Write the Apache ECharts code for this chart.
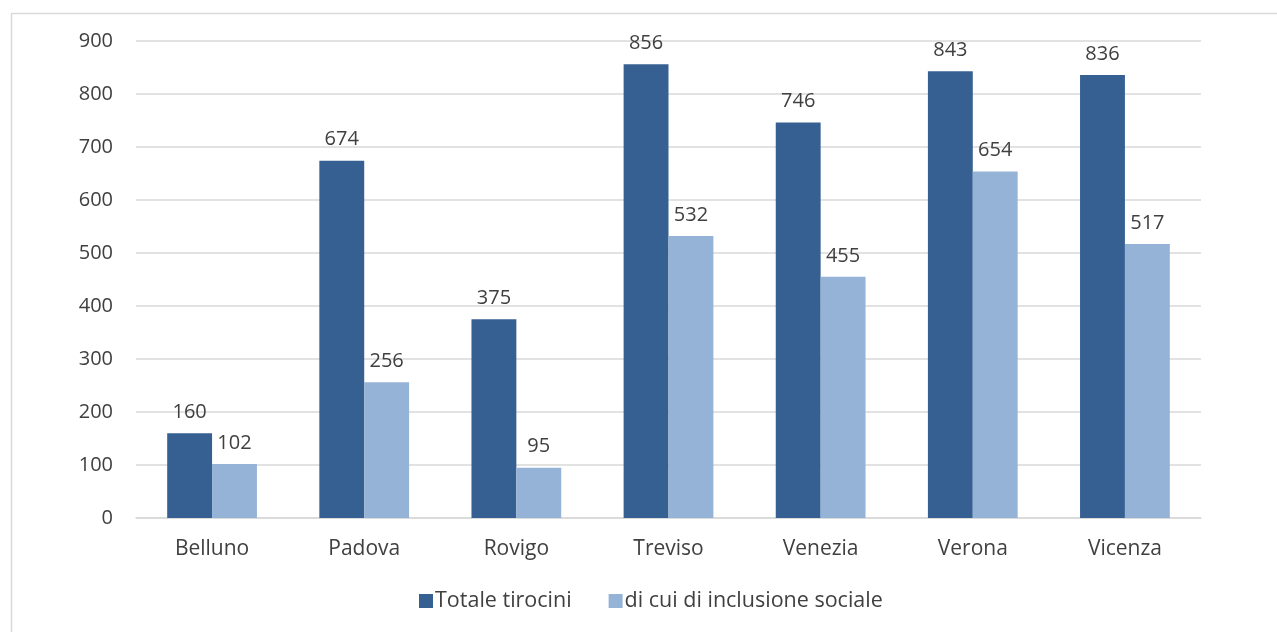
<!DOCTYPE html>
<html>
<head>
<meta charset="utf-8">
<script src="https://cdn.jsdelivr.net/npm/echarts@6/dist/echarts.min.js"></script>
<style>
  html, body { margin: 0; padding: 0; background: #ffffff; }
  #chart { width: 1277px; height: 632px; }
</style>
</head>
<body>
<div id="chart"></div>
<script>
// Tirocini per provincia del Veneto
const categories = ['Belluno', 'Padova', 'Rovigo', 'Treviso', 'Venezia', 'Verona', 'Vicenza'];
const totaleTirocini = [160, 674, 375, 856, 746, 843, 836];
const inclusioneSociale = [102, 256, 95, 532, 455, 654, 517];
const seriesNames = ['Totale tirocini', 'di cui di inclusione sociale'];

const textColor = '#404040';
const fontFamily = '"Open Sans", "Noto Sans", sans-serif';
const fontSize = 20;

const chart = echarts.init(document.getElementById('chart'));

const labelStyle = {
  show: true,
  position: 'top',
  distance: 11,
  color: textColor,
  fontSize: fontSize,
  fontFamily: fontFamily
};

chart.setOption({
  animation: false,
  graphic: [{
    type: 'rect',
    left: 9,
    top: 11,
    shape: { width: 1300, height: 660 },
    style: { fill: 'none', stroke: '#d9d9d9', lineWidth: 1.5 },
    silent: true
  }],
  grid: { left: 136, right: 76, top: 41, bottom: 114 },
  legend: {
    bottom: 15,
    left: 414,
    itemWidth: 14,
    itemHeight: 14,
    itemGap: 37,
    icon: 'rect',
    textStyle: { color: textColor, fontSize: 21.5, fontFamily: fontFamily, padding: [0, 0, 0, -3] },
    data: seriesNames
  },
  xAxis: {
    type: 'category',
    data: categories,
    axisLine: { lineStyle: { color: '#d9d9d9', width: 1.5 } },
    axisTick: { show: false },
    axisLabel: { color: textColor, fontSize: 21, fontFamily: fontFamily, margin: 21 }
  },
  yAxis: {
    type: 'value',
    min: 0,
    max: 900,
    interval: 100,
    axisLine: { show: false },
    axisTick: { show: false },
    splitLine: { lineStyle: { color: '#d9d9d9', width: 1.5 } },
    axisLabel: { color: textColor, fontSize: fontSize, fontFamily: fontFamily, margin: 23 }
  },
  series: [
    {
      name: seriesNames[0],
      type: 'bar',
      data: totaleTirocini,
      itemStyle: { color: '#366092' },
      barGap: '0%',
      barCategoryGap: '41%',
      label: labelStyle
    },
    {
      name: seriesNames[1],
      type: 'bar',
      data: inclusioneSociale,
      itemStyle: { color: '#95B3D7' },
      label: labelStyle
    }
  ]
});
</script>
</body>
</html>
